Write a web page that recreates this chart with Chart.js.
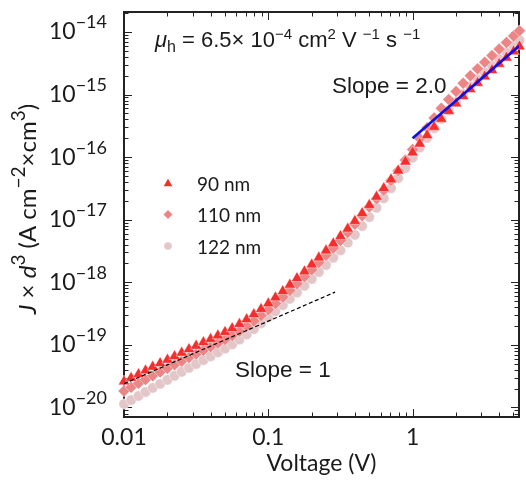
<!DOCTYPE html>
<html><head><meta charset="utf-8">
<script src="https://cdn.jsdelivr.net/npm/chart.js@4.4.0/dist/chart.umd.min.js"></script>
<style>html,body{margin:0;padding:0;background:#fff;overflow:hidden}canvas{display:block}</style>
</head><body>
<canvas id="c" width="526" height="491"></canvas>
<script>
// ---- data ----
const voltage = [0.0100,0.0112,0.0126,0.0141,0.0158,0.0178,0.0200,0.0224,0.0251,0.0282,
  0.0316,0.0355,0.0398,0.0447,0.0501,0.0562,0.0631,0.0708,0.0794,0.0891,
  0.100,0.112,0.126,0.141,0.158,0.178,0.200,0.224,0.251,0.282,
  0.316,0.355,0.398,0.447,0.501,0.562,0.631,0.708,0.794,0.891,
  1.00,1.12,1.26,1.41,1.58,1.78,2.00,2.24,2.51,2.82,3.16,3.55,3.98,4.47,5.01,5.50];
const j90 = [2.60e-20,2.97e-20,3.40e-20,3.89e-20,4.46e-20,5.09e-20,5.79e-20,6.59e-20,7.48e-20,8.51e-20,
  9.66e-20,1.10e-19,1.24e-19,1.41e-19,1.60e-19,1.84e-19,2.15e-19,2.56e-19,3.08e-19,3.74e-19,
  4.60e-19,5.73e-19,7.21e-19,9.14e-19,1.16e-18,1.49e-18,1.92e-18,2.48e-18,3.21e-18,4.18e-18,
  5.46e-18,7.18e-18,9.51e-18,1.27e-17,1.71e-17,2.32e-17,3.18e-17,4.39e-17,6.08e-17,8.45e-17,
  1.18e-16,1.63e-16,2.23e-16,3.03e-16,4.08e-16,5.44e-16,7.18e-16,9.35e-16,1.21e-15,1.53e-15,
  1.94e-15,2.44e-15,3.08e-15,3.87e-15,4.88e-15,5.86e-15];
const j110 = [1.84e-20,2.11e-20,2.43e-20,2.79e-20,3.21e-20,3.69e-20,4.22e-20,4.82e-20,5.50e-20,6.28e-20,
  7.16e-20,8.18e-20,9.33e-20,1.07e-19,1.22e-19,1.41e-19,1.66e-19,1.99e-19,2.41e-19,2.95e-19,
  3.66e-19,4.58e-19,5.81e-19,7.41e-19,9.48e-19,1.23e-18,1.59e-18,2.07e-18,2.70e-18,3.53e-18,
  4.65e-18,6.25e-18,8.47e-18,1.16e-17,1.59e-17,2.16e-17,2.96e-17,4.24e-17,6.08e-17,8.95e-17,
  1.32e-16,1.98e-16,2.94e-16,4.23e-16,6.04e-16,8.30e-16,1.12e-15,1.51e-15,2.00e-15,2.57e-15,
  3.28e-15,4.18e-15,5.31e-15,6.75e-15,8.59e-15,1.04e-14];
const j122 = [1.14e-20,1.32e-20,1.53e-20,1.77e-20,2.06e-20,2.38e-20,2.77e-20,3.21e-20,3.72e-20,4.30e-20,
  4.95e-20,5.71e-20,6.58e-20,7.59e-20,8.73e-20,1.02e-19,1.22e-19,1.47e-19,1.79e-19,2.22e-19,
  2.77e-19,3.44e-19,4.31e-19,5.43e-19,6.87e-19,8.79e-19,1.13e-18,1.46e-18,1.89e-18,2.47e-18,
  3.24e-18,4.30e-18,5.73e-18,7.91e-18,1.10e-17,1.55e-17,2.20e-17,3.18e-17,4.61e-17,6.71e-17,
  9.79e-17,1.42e-16,2.03e-16,2.89e-16,4.08e-16,5.61e-16,7.60e-16,1.02e-15,1.35e-15,1.75e-15,
  2.25e-15,2.88e-15,3.69e-15,4.73e-15,6.05e-15,7.38e-15];
const seriesLabels = ['90 nm','110 nm','122 nm'];
const slope1X = [0.01, 0.29];
const slope1Y = [2.4e-20, 6.96e-19];
const slope2X = [1.0, 5.46];
const slope2Y = [2.0e-16, 5.96e-15];
const xTickValues = [0.01, 0.1, 1];
const xTickLabels = ['0.01', '0.1', '1'];
const yTickBase = '10';
const yTickExponents = [-20, -19, -18, -17, -16, -15, -14];

// ---- styles ----
const C90 = '#f52d2d', C110 = '#ec8585', C122 = '#e3c6c8';
const TXT = '#1a1a1a';

const pts = ys => voltage.map((v, i) => ({x: v, y: ys[i]}));
const line = (xs, ys) => xs.map((v, i) => ({x: v, y: ys[i]}));

function rich(ctx, segs, x, y) {
  let cx = x;
  for (const [t, f, dy] of segs) {
    ctx.font = f; ctx.fillText(t, cx, y + dy); cx += ctx.measureText(t).width;
  }
  return cx - x;
}
function richWidth(ctx, segs) {
  let w = 0;
  for (const [t, f] of segs) { ctx.font = f; w += ctx.measureText(t).width; }
  return w;
}
function marker(ctx, style, x, y, r, color) {
  ctx.save();
  ctx.fillStyle = color;
  ctx.beginPath();
  if (style === 'triangle') {
    ctx.moveTo(x, y - r);
    ctx.lineTo(x + r * 0.866, y + r * 0.5);
    ctx.lineTo(x - r * 0.866, y + r * 0.5);
    ctx.closePath();
  } else if (style === 'rectRot') {
    ctx.moveTo(x, y - r); ctx.lineTo(x + r, y); ctx.lineTo(x, y + r); ctx.lineTo(x - r, y);
    ctx.closePath();
  } else {
    ctx.arc(x, y, r, 0, Math.PI * 2);
  }
  ctx.fill();
  ctx.restore();
}

const framePlugin = {
  id: 'frame',
  beforeDatasetsDraw(chart) {
    const {ctx, chartArea: a, scales: {x, y}} = chart;
    ctx.save();
    ctx.strokeStyle = '#222';
    ctx.lineWidth = 1;
    for (let d = -2; d <= 0; d++) {
      for (let k = 1; k <= 9; k++) {
        const v = k * Math.pow(10, d);
        if (v < x.min || v > x.max) continue;
        const px = Math.round(x.getPixelForValue(v)) + 0.5;
        const len = k === 1 ? 8 : 4.5;
        ctx.beginPath();
        ctx.moveTo(px, a.bottom); ctx.lineTo(px, a.bottom - len);
        ctx.moveTo(px, a.top); ctx.lineTo(px, a.top + len);
        ctx.stroke();
      }
    }
    for (let d = -21; d <= -14; d++) {
      for (let k = 1; k <= 9; k++) {
        const v = k * Math.pow(10, d);
        if (v < y.min || v > y.max) continue;
        const py = Math.round(y.getPixelForValue(v)) + 0.5;
        const len = k === 1 ? 8 : 4.5;
        ctx.beginPath();
        ctx.moveTo(a.left, py); ctx.lineTo(a.left + len, py);
        ctx.moveTo(a.right, py); ctx.lineTo(a.right - len, py);
        ctx.stroke();
      }
    }
    ctx.lineWidth = 2;
    ctx.strokeRect(a.left, a.top, a.right - a.left, a.bottom - a.top);
    ctx.restore();
  },
  afterDraw(chart) {
    const {ctx, chartArea: a, scales: {x, y}} = chart;
    ctx.save();
    ctx.fillStyle = TXT;
    ctx.textBaseline = 'alphabetic';
    ctx.font = '23px Lato';
    ctx.textAlign = 'center';
    xTickValues.forEach((v, i) => ctx.fillText(xTickLabels[i], x.getPixelForValue(v), 445));
    ctx.textAlign = 'left';
    yTickExponents.forEach(e => {
      const py = y.getPixelForValue(Math.pow(10, e));
      const segs = [[yTickBase, '23px Lato', 0], ['\u2212' + Math.abs(e), '18px Lato', -11]];
      const w = richWidth(ctx, segs);
      rich(ctx, segs, 107 - w, py + 7.5);
    });
    ctx.font = '23px Lato';
    ctx.textAlign = 'center';
    ctx.fillText('Voltage (V)', (a.left + a.right) / 2, 471);
    ctx.textAlign = 'left';
    const yt = [['J', 'italic 24px Lato', 0], [' \u00d7 ', '24px Lato', 0], ['d', 'italic 24px Lato', 0],
      ['3', '19px Lato', -11], [' (A cm', '24px Lato', 0], ['\u22122', '19px Lato', -11],
      ['\u00d7cm', '24px Lato', 0], ['3', '19px Lato', -11], [')', '24px Lato', 0]];
    const yw = richWidth(ctx, yt);
    ctx.save();
    ctx.translate(36, 209 + yw / 2);
    ctx.rotate(-Math.PI / 2);
    rich(ctx, yt, 0, 0);
    ctx.restore();
    const F = '"Liberation Sans", Arial, sans-serif';
    rich(ctx, [['\u03bc', 'italic 22px ' + F, 0], ['h', '16px ' + F, 5], [' = 6.5\u00d7 10', '22px ' + F, 0],
      ['\u22124', '15px ' + F, -8], [' cm', '22px ' + F, 0], ['2', '15px ' + F, -8], [' V ', '22px ' + F, 0],
      ['\u22121', '15px ' + F, -8], [' s ', '22px ' + F, 0], ['\u22121', '15px ' + F, -8]], 155, 47);
    ctx.font = '22.5px ' + F;
    ctx.fillText('Slope = 2.0', 332, 93);
    ctx.fillText('Slope = 1', 235, 377);
    const styles = ['triangle', 'rectRot', 'circle'];
    const cols = [C90, C110, C122];
    const rads = [5, 4.5, 3.8];
    const rows = [183, 214.5, 246];
    ctx.font = '19px Lato';
    rows.forEach((ry, i) => {
      marker(ctx, styles[i], 168, ry + (i === 0 ? 0.8 : 0), rads[i], cols[i]);
      ctx.fillStyle = TXT;
      ctx.fillText(seriesLabels[i], 197, ry + 7.5);
    });
    ctx.restore();
  }
};

const scatterDs = (label, ys, style, color, r, order) => ({
  type: 'scatter', label, data: pts(ys), pointStyle: style, pointRadius: r, pointHoverRadius: r,
  backgroundColor: color, borderColor: 'rgba(255,255,255,0.8)', borderWidth: 0.5,
  showLine: false, clip: false, order
});

new Chart(document.getElementById('c'), {
  type: 'scatter',
  data: {
    datasets: [
      {type: 'line', label: 'slope1', data: line(slope1X, slope1Y), borderColor: '#000', borderWidth: 1.2,
        borderDash: [4, 2.5], pointRadius: 0, fill: false, order: 0},
      {type: 'line', label: 'slope2', data: line(slope2X, slope2Y), borderColor: '#0a10e8', borderWidth: 2.6,
        pointRadius: 0, fill: false, order: 0},
      scatterDs(seriesLabels[0], j90, 'triangle', C90, 6.5, 1),
      scatterDs(seriesLabels[1], j110, 'rectRot', C110, 6, 2),
      scatterDs(seriesLabels[2], j122, 'circle', C122, 5.2, 3)
    ]
  },
  options: {
    responsive: false, animation: false, devicePixelRatio: 1,
    layout: {padding: {left: 124, top: 12, right: 1, bottom: 74}},
    plugins: {legend: {display: false}, tooltip: {enabled: false}},
    scales: {
      x: {type: 'logarithmic', min: 0.01, max: 5.46, display: false},
      y: {type: 'logarithmic', min: 7.05e-21, max: 2.08e-14, display: false}
    }
  },
  plugins: [framePlugin]
});
</script>
</body></html>
